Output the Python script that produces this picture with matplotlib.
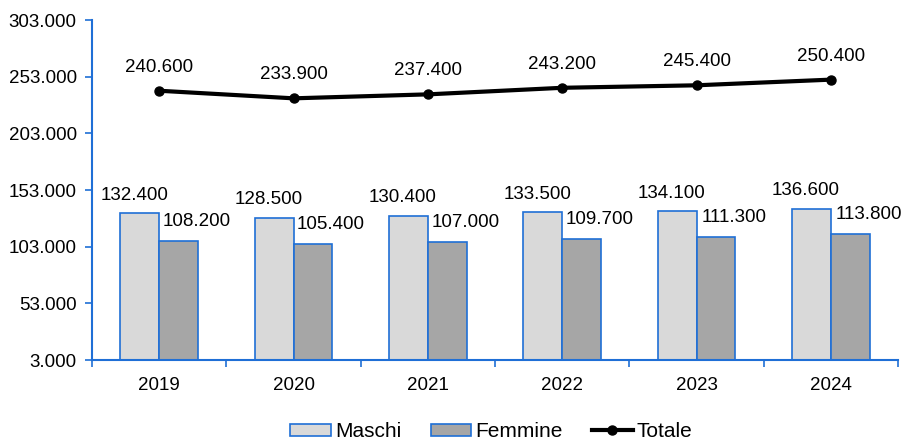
import matplotlib.pyplot as plt
import numpy as np
from matplotlib.ticker import FuncFormatter

plt.rcParams["font.family"] = ["Liberation Sans", "DejaVu Sans"]

YEARS = ["2019", "2020", "2021", "2022", "2023", "2024"]
MASCHI = [132400, 128500, 130400, 133500, 134100, 136600]
FEMMINE = [108200, 105400, 107000, 109700, 111300, 113800]
TOTALE = [240600, 233900, 237400, 243200, 245400, 250400]

BLUE = "#1F6FD6"
FS = 13.5


def it_fmt(v, _pos=None):
    return f"{v:,.0f}".replace(",", ".")


fig = plt.figure(figsize=(9.01, 4.45), dpi=100)
ax = fig.add_axes([0.1021, 0.191, 0.8946, 0.764])

x = np.arange(len(YEARS))
w = 0.29
bm = ax.bar(x - w / 2, np.array(MASCHI) - 3000, w, bottom=3000, color="#D9D9D9",
            edgecolor=BLUE, linewidth=1.2, label="Maschi", zorder=2)
bf = ax.bar(x + w / 2, np.array(FEMMINE) - 3000, w, bottom=3000, color="#A6A6A6",
            edgecolor=BLUE, linewidth=1.2, label="Femmine", zorder=2)
ln, = ax.plot(x, TOTALE, color="black", linewidth=3, marker="o", markersize=6.5,
              label="Totale", zorder=3)

for xi, m, f, t in zip(x, MASCHI, FEMMINE, TOTALE):
    ax.annotate(it_fmt(m), (xi - w / 2, m), xytext=(-4, 13), textcoords="offset points",
                ha="center", va="center", fontsize=FS)
    ax.annotate(it_fmt(f), (xi + w / 2, f), xytext=(13, 14), textcoords="offset points",
                ha="center", va="center", fontsize=FS)
    ax.annotate(it_fmt(t), (xi, t), xytext=(0, 17), textcoords="offset points",
                ha="center", va="center", fontsize=FS)

ax.set_xlim(-0.5, len(YEARS) - 0.5)
ax.set_ylim(3000, 303000)
ax.set_yticks(np.arange(3000, 303001, 50000))
ax.yaxis.set_major_formatter(FuncFormatter(it_fmt))
ax.set_xticks(x)
ax.set_xticklabels(YEARS)
ax.set_xticks(np.arange(-0.5, len(YEARS)), minor=True)
ax.tick_params(axis="x", which="major", length=0, labelsize=FS, pad=12)
ax.tick_params(axis="x", which="minor", length=5, color=BLUE, width=1.2)
ax.tick_params(axis="y", length=5, color=BLUE, width=1.2, labelsize=FS, pad=6)

for side in ("top", "right"):
    ax.spines[side].set_visible(False)
for side in ("left", "bottom"):
    ax.spines[side].set_color(BLUE)
    ax.spines[side].set_linewidth(1.5)

fig.legend(handles=[bm, bf, ln], loc="center", bbox_to_anchor=(0.5455, 0.03),
           ncol=3, frameon=False, fontsize=15, handlelength=1.95, handleheight=0.5,
           handletextpad=0.2, columnspacing=1.4, borderpad=0)

fig.savefig("out.png", dpi=100)
